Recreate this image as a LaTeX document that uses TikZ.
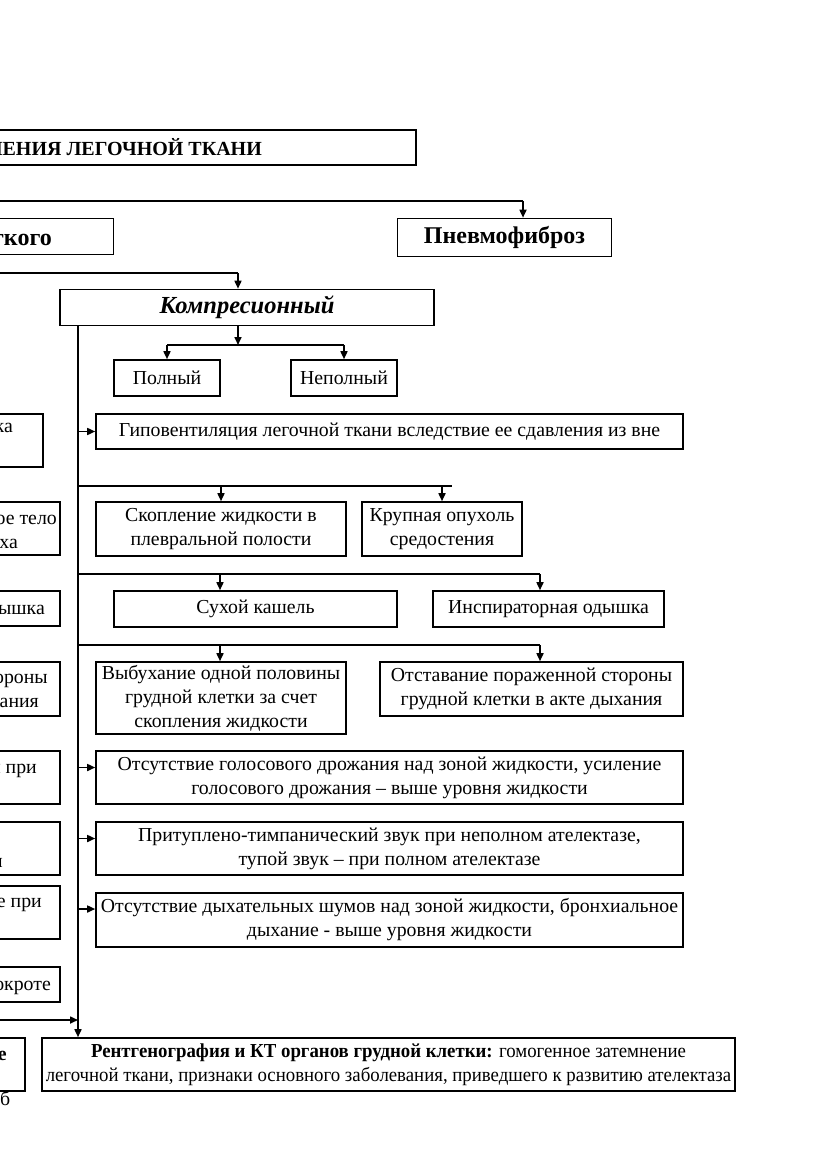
\documentclass[tikz,border=0pt]{standalone}
\usepackage{fontspec}
\setmainfont{Liberation Serif}
\usetikzlibrary{arrows.meta}
\begin{document}
\begin{tikzpicture}[x=1pt,y=-1pt,
  box/.style={draw, line width=1.6pt, inner sep=0pt, align=center,
    font=\fontsize{19.8}{24}\selectfont},
  head/.style={font=\fontsize{24}{26}\selectfont\bfseries},
  body/.style={font=\fontsize{19.8}{24}\selectfont},
  arr/.style={-{Triangle[length=8pt,width=7pt]}, line width=1.6pt},
  ln/.style={line width=1.6pt}]
\useasboundingbox (0,0) rectangle (831,1174);
\fill[white] (0,0) rectangle (831,1174);
\clip (0,0) rectangle (831,1174);

% top level
\node[box, minimum width=716, minimum height=35] (title) at (58,147.5) {};
\node[font=\fontsize{20}{24}\selectfont\bfseries, anchor=base east, inner sep=0pt] (titletxt) at (262,156) {СИНДРОМ УПЛОТНЕНИЯ ЛЕГОЧНОЙ ТКАНИ};
\node[box, minimum width=413, minimum height=36] (atel) at (-93,236.5) {};
\node[head, anchor=base east, inner sep=0pt] (ateltxt) at (52,245) {Ателектаз легкого};
\node[box, head, minimum width=214, minimum height=38] (pnevmo) at (504.5,237.5) {Пневмофиброз};
\node[box, minimum width=374, minimum height=36] (komp) at (247,307.5) {\fontsize{24.5}{26}\selectfont\bfseries\itshape Компресионный};

\coordinate (l1) at (-10,201);
\draw[ln] (l1) -- (523,201);
\draw[arr] (523,201) -- (pnevmo.north -| 523,0);
\coordinate (l2) at (-10,273);
\draw[ln] (l2) -- (238,273);
\draw[arr] (238,273) -- (komp.north -| 238,0);

% Polny / Nepolny
\node[box, minimum width=106, minimum height=36] (poln) at (167,378) {Полный};
\node[box, minimum width=106, minimum height=36] (nepoln) at (344,378) {Неполный};
\coordinate (b1) at (238,345);
\draw[arr] (komp.south -| b1) -- (b1);
\draw[ln] (poln.north |- b1) -- (nepoln.north |- b1);
\draw[arr] (poln.north |- b1) -- (poln.north);
\draw[arr] (nepoln.north |- b1) -- (nepoln.north);

% spine
\coordinate (sp) at (78,325);
\node[box, minimum width=693, minimum height=53, font=\fontsize{19.8}{24}\selectfont\addfontfeature{FakeStretch=0.95}] (rent) at (388.5,1064.5)
  {\textbf{Рентгенография и КТ органов грудной клетки:} гомогенное затемнение\\
   легочной ткани, признаки основного заболевания, приведшего к развитию ателектаза};
\draw[arr] (sp) -- (sp |- rent.north);

% right column
\node[box, minimum width=587, minimum height=35] (gipo) at (389.5,431.5) {Гиповентиляция легочной ткани вследствие ее сдавления из вне};
\draw[arr] (sp |- gipo.west) -- (gipo.west);

\node[box, minimum width=250, minimum height=54] (skop) at (221,529) {Скопление жидкости в\\плевральной полости};
\node[box, minimum width=160, minimum height=54] (krup) at (442,529) {Крупная опухоль\\средостения};
\coordinate (h2) at (78,486);
\draw[ln] (h2) -- (452,486);
\draw[arr] (skop.north |- h2) -- (skop.north);
\draw[arr] (krup.north |- h2) -- (krup.north);

\node[box, minimum width=283, minimum height=36] (sukh) at (255.5,609) {Сухой кашель};
\node[box, minimum width=231, minimum height=36] (insp) at (548.5,609) {Инспираторная одышка};
\coordinate (h3) at (78,574);
\draw[ln] (h3) -- (540,574);
\draw[arr] (220,574) -- (sukh.north -| 220,0);
\draw[arr] (540,574) -- (insp.north -| 540,0);

\node[box, minimum width=250, minimum height=72] (vyb) at (221,698) {Выбухание одной половины\\грудной клетки за счет\\скопления жидкости};
\node[box, minimum width=303, minimum height=54] (otst) at (531.5,689) {Отставание пораженной стороны\\грудной клетки в акте дыхания};
\coordinate (h4) at (78,645);
\draw[ln] (h4) -- (540,645);
\draw[arr] (220,645) -- (vyb.north -| 220,0);
\draw[arr] (540,645) -- (otst.north -| 540,0);

\node[box, minimum width=587, minimum height=53] (golos) at (389.5,777.5) {Отсутствие голосового дрожания над зоной жидкости, усиление\\голосового дрожания – выше уровня жидкости};
\node[box, minimum width=587, minimum height=53] (prit) at (389.5,848.5) {Притуплено-тимпанический звук при неполном ателектазе,\\тупой звук – при полном ателектазе};
\node[box, minimum width=587, minimum height=54] (dykh) at (389.5,920) {Отсутствие дыхательных шумов над зоной жидкости, бронхиальное\\дыхание - выше уровня жидкости};
\draw[arr] ([yshift=10pt]sp |- golos.west) -- ([yshift=10pt]golos.west);
\draw[arr] ([yshift=10pt]sp |- prit.west) -- ([yshift=10pt]prit.west);
\draw[arr] ([yshift=11pt]sp |- dykh.west) -- ([yshift=11pt]dykh.west);

% left column (clipped)
\node[box, minimum width=300, minimum height=53] (la) at (-107,440.5) {};
\node[body, anchor=base east, inner sep=0pt] (lat) at (13,432) {Закупорка};
\node[box, minimum width=300, minimum height=53] (lb) at (-90,528.5) {};
\node[body, anchor=base east, inner sep=0pt] (lbt1) at (57,524) {Инородное тело};
\node[body, anchor=base east, inner sep=0pt] (lbt2) at (18,548) {бронха};
\node[box, minimum width=300, minimum height=35] (lc) at (-90,608.5) {};
\node[body, anchor=base east, inner sep=0pt] (lct) at (45,614) {Экспираторная одышка};
\node[box, minimum width=300, minimum height=54] (ld) at (-90,689) {};
\node[body, anchor=base east, inner sep=0pt] (ldt1) at (48,683) {Отставание пораженной стороны};
\node[body, anchor=base east, inner sep=0pt] (ldt2) at (39,707) {грудной клетки в акте дыхания};
\node[box, minimum width=300, minimum height=53] (le) at (-90,777.5) {};
\node[body, anchor=base east, inner sep=0pt] (let) at (37,773) {Усиление голосового дрожания при};
\node[box, minimum width=300, minimum height=53] (lf) at (-90,848.5) {};
\node[body, anchor=base east, inner sep=0pt] (lft) at (3,867) {перкуссии};
\node[box, minimum width=300, minimum height=53] (lg) at (-90,912.5) {};
\node[body, anchor=base east, inner sep=0pt] (lgt) at (42,907) {Бронхиальное дыхание при};
\node[box, minimum width=300, minimum height=35] (lh) at (-90,984.5) {};
\node[body, anchor=base east, inner sep=0pt] (lht) at (51,990) {Кровь в мокроте};
\node[box, minimum width=300, minimum height=53] (li) at (-125,1064.5) {};
\node[body, anchor=base east, inner sep=0pt] (lit) at (7,1060) {\bfseries Рентгенологические};
\node[body, anchor=base west, inner sep=0pt] (lit2) at (0,1105) {б};

\coordinate (h5) at (-10,1020);
\draw[arr] (h5) -- (h5 -| sp);
\end{tikzpicture}
\end{document}
